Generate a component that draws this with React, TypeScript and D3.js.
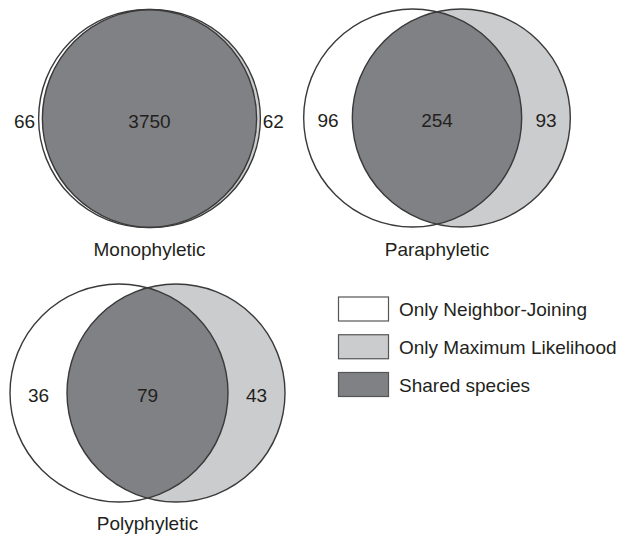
import React from "react";
import * as d3 from "d3";

// counts per category: only NJ, shared, only ML
const categories = ["Monophyletic", "Paraphyletic", "Polyphyletic"];
const onlyNJ = [66, 96, 36];
const shared = [3750, 254, 79];
const onlyML = [62, 93, 43];

const legendLabels = ["Only Neighbor-Joining", "Only Maximum Likelihood", "Shared species"];
const legendColors = ["#ffffff", "#cbccce", "#808184"];

const width = 632;
const height = 536;
const radius = 109;
const font = "'Liberation Sans', Arial, Helvetica, sans-serif";

// panel placement (centre of the pair, centre y, title baseline)
const panels = [
  { cx: 149.5, cy: 118.5, titleY: 256 },
  { cx: 437, cy: 118, titleY: 256 },
  { cx: 147.5, cy: 393, titleY: 530 },
];

// distance between circle centres grows with the non-shared fraction
const offset = d3.scaleLinear().domain([0, 1]).range([0, 114]);

const legendY = d3
  .scalePoint<string>()
  .domain(legendLabels)
  .range([309, 384.5]);

const Venn = ({ i }: { i: number }) => {
  const p = panels[i];
  const a = onlyNJ[i];
  const b = onlyML[i];
  const c = shared[i];
  const d = offset((a + b) / (a + b + c));
  const lx = p.cx - d / 2;
  const rx = p.cx + d / 2;
  const clipId = "clip-" + i;

  const gap = rx - lx;
  const leftX = gap < 30 ? lx - radius - 14 : (lx - radius + rx - radius) / 2;
  const rightX = gap < 30 ? rx + radius + 13 : (lx + radius + rx + radius) / 2;

  const textProps = {
    fontFamily: font,
    fontSize: 19,
    fill: "#231f20",
    textAnchor: "middle" as const,
  };

  return (
    <g>
      <defs>
        <clipPath id={clipId}>
          <circle cx={lx} cy={p.cy} r={radius} />
        </clipPath>
      </defs>
      <circle cx={lx} cy={p.cy} r={radius} fill={legendColors[0]} />
      <circle cx={rx} cy={p.cy} r={radius} fill={legendColors[1]} />
      <circle cx={rx} cy={p.cy} r={radius} fill={legendColors[2]} clipPath={`url(#${clipId})`} />
      <circle cx={lx} cy={p.cy} r={radius} fill="none" stroke="#3a3a3a" strokeWidth={1.4} />
      <circle cx={rx} cy={p.cy} r={radius} fill="none" stroke="#3a3a3a" strokeWidth={1.4} />
      <text {...textProps} x={leftX} y={p.cy + 9}>{a}</text>
      <text {...textProps} x={(lx + rx) / 2} y={p.cy + 9}>{c}</text>
      <text {...textProps} x={rightX} y={p.cy + 9}>{b}</text>
      <text {...textProps} x={p.cx} y={p.titleY}>{categories[i]}</text>
    </g>
  );
};

export default function App() {
  return (
    <svg
      width={width}
      height={height}
      style={{ position: "absolute", left: 0, top: 0, background: "#fff" }}
    >
      {categories.map((_, i) => (
        <Venn key={i} i={i} />
      ))}
      {legendLabels.map((l, i) => {
        const y = legendY(l) as number;
        return (
          <g key={l}>
            <rect
              x={338.5}
              y={y - 12}
              width={50}
              height={24}
              fill={legendColors[i]}
              stroke="#555"
              strokeWidth={1.2}
            />
            <text
              x={399}
              y={y + 7}
              fontFamily={font}
              fontSize={19}
              fill="#231f20"
            >
              {l}
            </text>
          </g>
        );
      })}
    </svg>
  );
}
